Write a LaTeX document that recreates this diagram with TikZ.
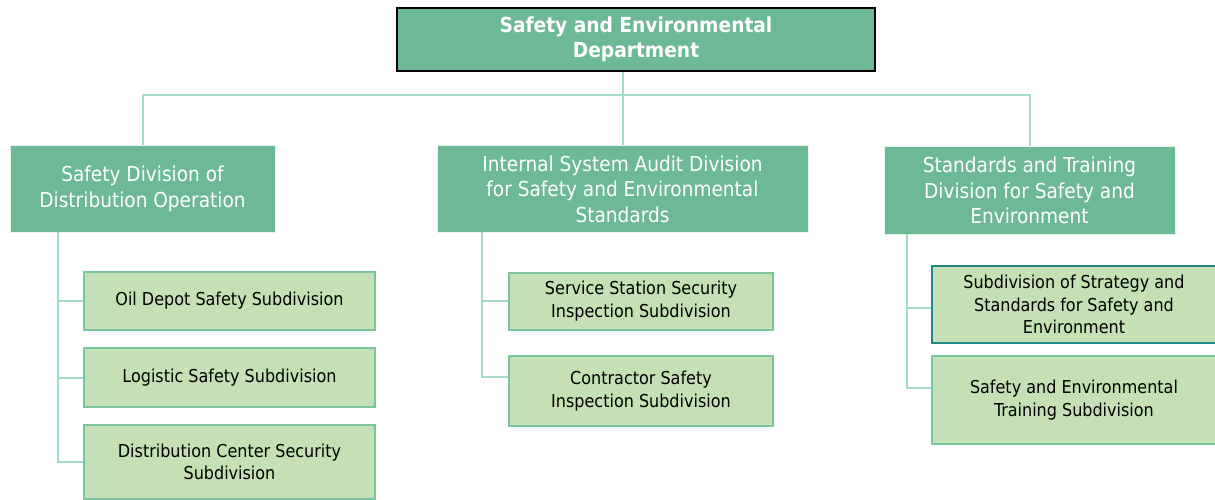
\documentclass[tikz,border=0pt]{standalone}
\usepackage{fontspec}
\setmainfont{DejaVu Sans Condensed}
\usepackage{tikz}
\usetikzlibrary{positioning}

\definecolor{deptgreen}{HTML}{6DB996}
\definecolor{subgreen}{HTML}{C5E0B4}
\definecolor{subline}{HTML}{7CC3A0}
\definecolor{linkgreen}{HTML}{A3DCC4}
\definecolor{tealline}{HTML}{1F8A87}

\tikzset{
  dept/.style={draw=black, line width=2pt, fill=deptgreen, text=white, font=\fontsize{20.7}{25}\selectfont\bfseries, align=center, inner sep=0pt},
  division/.style={draw=white!85!deptgreen, line width=1pt, fill=deptgreen, text=white, font=\fontsize{20.6}{25.5}\selectfont, align=center, inner sep=0pt},
  subdiv/.style={draw=subline, line width=2pt, fill=subgreen, text=black, font=\fontsize{17.8}{22.5}\selectfont, align=center, inner sep=0pt},
  link/.style={draw=linkgreen, line width=2pt}
}

\begin{document}
\begin{tikzpicture}[x=1pt,y=-1pt]
    \useasboundingbox (0,0) rectangle (1215,500);
    % top
    \node[dept, minimum width=478, minimum height=63] (top) at (636,39.5) {Safety and Environmental\\Department};
    % divisions
    \node[division, minimum width=265, minimum height=86] (distop) at (142.5,189) {Safety Division of\\Distribution Operation};
    \node[division, minimum width=371, minimum height=86] (audit) at (622.5,189) {Internal System Audit Division\\for Safety and Environmental\\Standards};
    \node[division, minimum width=291, minimum height=87] (standards) at (1029.5,190.5) {Standards and Training\\Division for Safety and\\Environment};
    % subdivisions
    \node[subdiv, minimum width=291, minimum height=58] (oildepot) at (229.5,301) {Oil Depot Safety Subdivision};
    \node[subdiv, minimum width=291, minimum height=59] (logistic) at (229.5,377.5) {Logistic Safety Subdivision};
    \node[subdiv, minimum width=291, minimum height=74] (distcenter) at (229.5,462) {Distribution Center Security\\Subdivision};
    \node[subdiv, minimum width=264, minimum height=57] (service) at (641,301) {Service Station Security\\Inspection Subdivision};
    \node[subdiv, minimum width=264, minimum height=70] (contractor) at (641,391) {Contractor Safety\\Inspection Subdivision};
    \node[subdiv, draw=tealline, minimum width=284, minimum height=77] (strategy) at (1074,304.5) {Subdivision of Strategy and\\Standards for Safety and\\Environment};
    \node[subdiv, minimum width=284, minimum height=88] (training) at (1074,400) {Safety and Environmental\\Training Subdivision};
    % connectors
    \coordinate (bus) at (622,95);
    \coordinate (distrunk) at (58,232);
    \coordinate (audtrunk) at (482,232);
    \coordinate (stdtrunk) at (907,234);
    \draw[link] (audit.north) -- (audit.north |- top.south);
    \draw[link] (distop.north) |- (bus) -| (standards.north);
    \draw[link] (distrunk) |- (oildepot.west);
    \draw[link] (distrunk) |- (logistic.west);
    \draw[link] (distrunk) |- (distcenter.west);
    \draw[link] (audtrunk) |- (service.west);
    \draw[link] (audtrunk) |- ([yshift=14pt]contractor.west);
    \draw[link] (stdtrunk) |- ([yshift=-3pt]strategy.west);
    \draw[link] (stdtrunk) |- ([yshift=12.5pt]training.west);
\end{tikzpicture}
\end{document}
